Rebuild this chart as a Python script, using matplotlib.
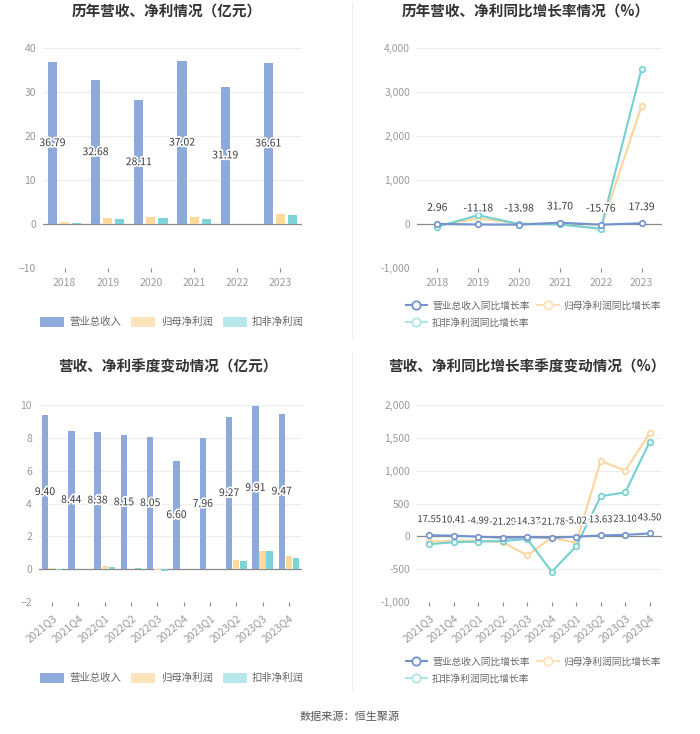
import matplotlib
matplotlib.use("Agg")
import matplotlib.pyplot as plt
import matplotlib.patheffects as pe
from matplotlib.patches import Patch
from matplotlib.lines import Line2D
from matplotlib.ticker import FuncFormatter
import numpy as np

plt.rcParams['font.family'] = ['Noto Sans CJK SC', 'DejaVu Sans']

# ---- data ----
years = ['2018', '2019', '2020', '2021', '2022', '2023']
rev_year = [36.79, 32.68, 28.11, 37.02, 31.19, 36.61]
np_year = [0.5, 1.4, 1.6, 1.6, 0.05, 2.3]
dnp_year = [0.3, 1.1, 1.3, 1.2, -0.08, 2.1]

rev_yoy_year = [2.96, -11.18, -13.98, 31.70, -15.76, 17.39]
np_yoy_year = [-40, 130, 10, 0, -100, 2680]
dnp_yoy_year = [-60, 200, 0, -10, -110, 3530]

quarters = ['2021Q3', '2021Q4', '2022Q1', '2022Q2', '2022Q3',
            '2022Q4', '2023Q1', '2023Q2', '2023Q3', '2023Q4']
rev_q = [9.40, 8.44, 8.38, 8.15, 8.05, 6.60, 7.96, 9.27, 9.91, 9.47]
np_q = [0.05, 0.03, 0.22, 0.02, -0.03, 0.04, 0.02, 0.55, 1.10, 0.80]
dnp_q = [-0.05, 0.01, 0.12, 0.06, -0.12, 0.01, 0.01, 0.48, 1.12, 0.65]

rev_yoy_q = [17.55, 10.41, -4.99, -21.29, -14.37, -21.78, -5.02, 13.63, 23.10, 43.50]
np_yoy_q = [-80, -70, -65, -90, -290, -20, -100, 1150, 1000, 1570]
dnp_yoy_q = [-120, -90, -80, -70, -40, -540, -150, 610, 670, 1440]

bar_names = ['营业总收入', '归母净利润', '扣非净利润']
line_names = ['营业总收入同比增长率', '归母净利润同比增长率', '扣非净利润同比增长率']

# ---- style ----
C_REV = '#8DAADB'
C_NP = '#FFD89E'
C_DNP = '#7ED3D6'
C_NP_LEG = '#FFE3BA'
C_DNP_LEG = '#B8E9EA'
L_REV = '#7393CE'
L_NP = '#FBD69C'
L_DNP = '#74D0D2'
TICK_C = '#9A9A9A'
W, H = 700, 734

fig = plt.figure(figsize=(7, 7.34), dpi=100)
fig.patch.set_facecolor('white')


def px_axes(x0, x1, ytop, ybot):
    return fig.add_axes([x0 / W, 1 - ybot / H, (x1 - x0) / W, (ybot - ytop) / H])


def style_axes(ax, ylim, yticks, comma=False):
    ax.set_ylim(*ylim)
    ax.set_yticks(yticks)
    for s in ax.spines.values():
        s.set_visible(False)
    ax.grid(axis='y', color='#EDEDED', linewidth=0.8)
    ax.set_axisbelow(True)
    ax.axhline(0, color='#8A8A8A', linewidth=0.9, zorder=1.5)
    ax.tick_params(axis='y', length=0, labelsize=7.5, labelcolor=TICK_C, pad=5)
    ax.tick_params(axis='x', length=3, color='#8A8A8A', labelsize=7.5,
                   labelcolor=TICK_C, pad=4)
    if comma:
        ax.yaxis.set_major_formatter(FuncFormatter(lambda v, p: f'{v:,.0f}'))


halo = [pe.withStroke(linewidth=2.5, foreground='white')]


def set_cats(ax, cats, rotate):
    ax.set_xticks(np.arange(len(cats)))
    if rotate:
        ax.set_xticklabels(cats, rotation=40, ha='right', rotation_mode='anchor')
        ax.tick_params(axis='x', pad=5)
    else:
        ax.set_xticklabels(cats)


def bar_panel(ax, cats, rev, np_, dnp, width, off, ylim, yticks, rotate=False):
    x = np.arange(len(cats))
    ax.bar(x - off, rev, width, color=C_REV, zorder=2)
    ax.bar(x, np_, width, color=C_NP, zorder=2)
    ax.bar(x + off, dnp, width, color=C_DNP, zorder=2)
    for xi, v in zip(x, rev):
        ax.text(xi - off, v / 2, f'{v:.2f}', ha='center', va='center',
                fontsize=7.5, color='#3A3A3A', path_effects=halo, zorder=4)
    ax.set_xlim(-0.5, len(cats) - 0.5)
    style_axes(ax, ylim, yticks)
    set_cats(ax, cats, rotate)


def line_panel(ax, cats, rev, np_, dnp, ylim, yticks, rotate=False, lab_fs=7.5):
    x = np.arange(len(cats))
    for vals, c, z in [(np_, L_NP, 2), (dnp, L_DNP, 3), (rev, L_REV, 4)]:
        ax.plot(x, vals, color=c, linewidth=1.5, marker='o', markersize=4,
                markerfacecolor='white', markeredgecolor=c, markeredgewidth=1.2,
                zorder=z)
    for xi, v in zip(x, rev):
        ax.annotate(f'{v:.2f}', (xi, v), xytext=(0, 8), textcoords='offset points',
                    ha='center', va='bottom', fontsize=lab_fs, color='#3A3A3A',
                    path_effects=halo, zorder=5)
    ax.set_xlim(-0.5, len(cats) - 0.5)
    style_axes(ax, ylim, yticks, comma=True)
    set_cats(ax, cats, rotate)


bar_handles = [Patch(facecolor=C_REV, edgecolor='none'),
               Patch(facecolor=C_NP_LEG, edgecolor='none'),
               Patch(facecolor=C_DNP_LEG, edgecolor='none')]


def line_handle(c):
    return Line2D([0], [0], color=c, linewidth=1.5, marker='o', markersize=6,
                  markerfacecolor='white', markeredgecolor=c, markeredgewidth=1.3)


line_handles = [line_handle(L_REV), line_handle('#FDE2B8'), line_handle('#AEE6E8')]
# column-first fill: put the third item under the first
line_order = [0, 2, 1]


def bar_legend(ycen):
    fig.legend(bar_handles, bar_names, loc='center', bbox_to_anchor=(172 / W, 1 - ycen / H),
               ncol=3, frameon=False, fontsize=7.5, labelcolor='#666666',
               handlelength=2.3, handleheight=1.1, columnspacing=1.0, handletextpad=0.5)


def line_legend(ytop):
    fig.legend([line_handles[i] for i in line_order], [line_names[i] for i in line_order],
               loc='upper left', bbox_to_anchor=(397 / W, 1 - ytop / H), ncol=2,
               frameon=False, fontsize=7, labelcolor='#666666', handlelength=2.2,
               columnspacing=0.8, handletextpad=0.5, labelspacing=0.7)


# ---- top-left ----
ax1 = px_axes(43, 302, 48, 268)
bar_panel(ax1, years, rev_year, np_year, dnp_year, 0.21, 0.28,
          (-10, 40), [-10, 0, 10, 20, 30, 40])
bar_legend(322)

# ---- top-right ----
ax2 = px_axes(417, 662, 48, 268)
line_panel(ax2, years, rev_yoy_year, np_yoy_year, dnp_yoy_year,
           (-1000, 4000), [-1000, 0, 1000, 2000, 3000, 4000])
line_legend(292)

# ---- bottom-left ----
ax3 = px_axes(39, 302, 405, 602)
bar_panel(ax3, quarters, rev_q, np_q, dnp_q, 0.24, 0.27,
          (-2, 10), [-2, 0, 2, 4, 6, 8, 10], rotate=True)
bar_legend(678)

# ---- bottom-right ----
ax4 = px_axes(417, 662, 405, 602)
line_panel(ax4, quarters, rev_yoy_q, np_yoy_q, dnp_yoy_q,
           (-1000, 2000), [-1000, -500, 0, 500, 1000, 1500, 2000], rotate=True,
           lab_fs=6.8)
line_legend(648)

# ---- titles & decorations ----
title_kw = dict(ha='center', va='center', fontsize=10.5, fontweight='bold', color='#333333')
fig.text(167 / W, 1 - 12 / H, '历年营收、净利情况（亿元）', **title_kw)
fig.text(526 / W, 1 - 12 / H, '历年营收、净利同比增长率情况（%）', **title_kw)
fig.text(168 / W, 1 - 367 / H, '营收、净利季度变动情况（亿元）', **title_kw)
fig.text(527 / W, 1 - 367 / H, '营收、净利同比增长率季度变动情况（%）', **title_kw)

fig.add_artist(Line2D([352 / W, 352 / W], [1 - 2 / H, 1 - 338 / H], color='#EEEEEE', linewidth=0.8))
fig.add_artist(Line2D([352 / W, 352 / W], [1 - 352 / H, 1 - 690 / H], color='#EEEEEE', linewidth=0.8))

fig.text(350 / W, 1 - 717 / H, '数据来源：恒生聚源', ha='center', va='center',
         fontsize=8, color='#555555')

fig.savefig('out.png', dpi=100)
